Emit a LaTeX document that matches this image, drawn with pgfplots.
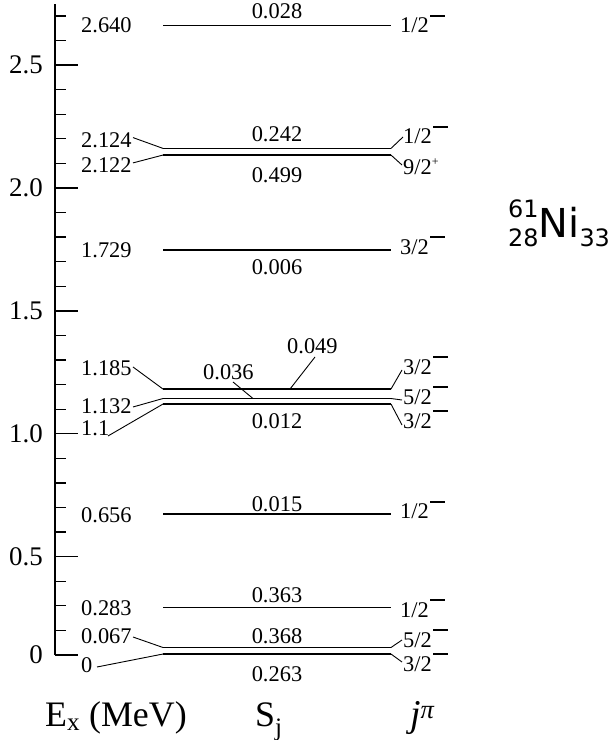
\documentclass[border=0pt]{standalone}
\usepackage{pgfplots}
\pgfplotsset{compat=1.18}
\usepackage{fontspec}
\setmainfont{Liberation Serif}
\newfontfamily\djv{DejaVu Sans}

% level line, connector line
\pgfplotsset{
  lvl/.style={black, line width=1.5bp, no marks},
  conn/.style={black, line width=0.9bp, no marks},
}
\tikzset{lab/.style={inner sep=0pt, font=\fontsize{22.5}{22.5}\selectfont}}
\newcommand{\lvl}[1]{\addplot[lvl] coordinates {(163,#1) (391,#1)};}
\newcommand{\conn}[4]{\addplot[conn] coordinates {(#1,#2) (#3,#4)};}
\newcommand{\mn}{\hspace{1.5bp}\raisebox{16bp}{\rule{15bp}{2.3bp}}}
\newcommand{\pl}{\raisebox{9bp}{\fontsize{12}{12}\selectfont +}}

\begin{document}
\begin{tikzpicture}
\begin{axis}[
  scale only axis, width=561bp, height=651.37bp,
  xmin=55, xmax=616, ymin=0.1, ymax=2.75,
  axis x line=none, axis y line*=left,
  ytick={0.1,0.5,1.0,1.5,2.0,2.5},
  yticklabels={0,0.5,1.0,1.5,2.0,2.5},
  minor ytick={0.2,0.3,0.4,0.6,0.7,0.8,0.9,1.1,1.2,1.3,1.4,1.6,1.7,1.8,1.9,2.1,2.2,2.3,2.4,2.6,2.7},
  tick align=inside, ytick pos=left,
  major tick length=23bp, minor tick length=11bp,
  every tick/.style={black, line width=1.3bp},
  axis line style={line width=1.3bp},
  yticklabel style={font=\fontsize{27}{27}\selectfont, inner sep=0pt, xshift=-12bp},
  clip=false,
]
% levels (drawn positions)
\lvl{2.661}
\lvl{2.161}
\lvl{2.134}
\lvl{1.748}
\lvl{1.182}
\lvl{1.1435}
\lvl{1.121}
\lvl{0.674}
\lvl{0.294}
\lvl{0.1305}
\lvl{0.104}

% left connectors
\conn{133}{2.205}{163}{2.161}
\conn{133}{2.102}{163}{2.134}
\conn{133}{1.2717}{163}{1.182}
\conn{133}{1.1090}{163}{1.1435}
\conn{108}{0.9910}{163}{1.121}
\conn{133}{0.1732}{163}{0.1305}
\conn{97}{0.0512}{163}{0.104}
% S_j connectors
\conn{315}{1.3124}{290}{1.182}
\conn{233}{1.2107}{253}{1.1435}
% right connectors
\conn{391}{2.161}{403}{2.2074}
\conn{391}{2.134}{402}{2.0935}
\conn{391}{1.182}{402}{1.2595}
\conn{391}{1.1435}{402}{1.1374}
\conn{391}{1.121}{402}{1.0357}
\conn{391}{0.1305}{402}{0.161}
\conn{391}{0.104}{402}{0.0715}

% energies
\node[lab, anchor=base west] at (axis cs:81,2.6305) {2.640};
\node[lab, anchor=base west] at (axis cs:81,2.1667) {2.124};
\node[lab, anchor=base west] at (axis cs:81,2.065) {2.122};
\node[lab, anchor=base west] at (axis cs:81,1.719) {1.729};
\node[lab, anchor=base west] at (axis cs:81,1.2391) {1.185};
\node[lab, anchor=base west] at (axis cs:81,1.0805) {1.132};
\node[lab, anchor=base west] at (axis cs:81,0.9910) {1.1};
\node[lab, anchor=base west] at (axis cs:81,0.641) {0.656};
\node[lab, anchor=base west] at (axis cs:81,0.2587) {0.283};
\node[lab, anchor=base west] at (axis cs:81,0.1488) {0.067};
\node[lab, anchor=base west] at (axis cs:81,0.0268) {0};

% spectroscopic factors
\node[lab, anchor=base] at (axis cs:277,2.6875) {0.028};
\node[lab, anchor=base] at (axis cs:277,2.191) {0.242};
\node[lab, anchor=base] at (axis cs:277,2.0243) {0.499};
\node[lab, anchor=base] at (axis cs:277,1.646) {0.006};
\node[lab, anchor=base west] at (axis cs:287,1.3286) {0.049};
\node[lab, anchor=base west] at (axis cs:203,1.2188) {0.036};
\node[lab, anchor=base] at (axis cs:277,1.0235) {0.012};
\node[lab, anchor=base] at (axis cs:277,0.6858) {0.015};
\node[lab, anchor=base] at (axis cs:277,0.3116) {0.363};
\node[lab, anchor=base] at (axis cs:277,0.1488) {0.368};
\node[lab, anchor=base] at (axis cs:277,-0.0098) {0.263};

% spins
\node[lab, anchor=base west] at (axis cs:400,2.6305) {1/2\mn};
\node[lab, anchor=base west] at (axis cs:403,2.179) {1/2\mn};
\node[lab, anchor=base west] at (axis cs:403,2.053) {9/2\pl};
\node[lab, anchor=base west] at (axis cs:400,1.7314) {3/2\mn};
\node[lab, anchor=base west] at (axis cs:403,1.2432) {3/2\mn};
\node[lab, anchor=base west] at (axis cs:403,1.121) {5/2\mn};
\node[lab, anchor=base west] at (axis cs:403,1.0235) {3/2\mn};
\node[lab, anchor=base west] at (axis cs:400,0.6533) {1/2\mn};
\node[lab, anchor=base west] at (axis cs:400,0.2546) {1/2\mn};
\node[lab, anchor=base west] at (axis cs:403,0.1325) {5/2\mn};
\node[lab, anchor=base west] at (axis cs:403,0.0349) {3/2\mn};

% column titles
\node[inner sep=0pt, anchor=base west, font=\fontsize{36}{36}\selectfont] at (axis cs:45,-0.1929) {E\textsubscript{x} (MeV)};
\node[inner sep=0pt, anchor=base west, font=\fontsize{36}{36}\selectfont] at (axis cs:255,-0.1929) {S\textsubscript{j}};
\node[inner sep=0pt, anchor=base west, font=\fontsize{38}{38}\selectfont] at (axis cs:410,-0.1929) {\textit{j\textsuperscript{π}}};

% nucleus
\node[inner sep=0pt, anchor=base west, font=\djv] at (axis cs:508,1.7965)
  {{\fontsize{24}{24}\selectfont\rlap{\raisebox{20bp}{61}}\raisebox{-9bp}{28}}{\fontsize{40}{40}\selectfont Ni}{\fontsize{24}{24}\selectfont\raisebox{-9bp}{33}}};

\coordinate (bbbl) at (axis cs:0,-0.2458);
\coordinate (bbtr) at (axis cs:616,2.7648);
\end{axis}
\pgfresetboundingbox
\path[use as bounding box] (bbbl) rectangle (bbtr);
\end{tikzpicture}
\end{document}
